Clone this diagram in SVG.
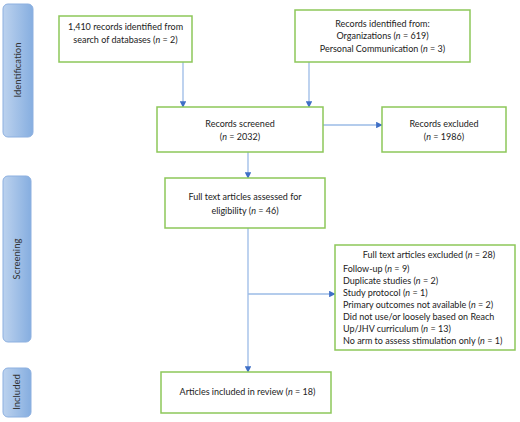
<svg xmlns="http://www.w3.org/2000/svg" width="520" height="422" viewBox="0 0 520 422">
<defs>
<linearGradient id="bar" x1="0" y1="0" x2="1" y2="0">
<stop offset="0" stop-color="#bcd2ee"/>
<stop offset="1" stop-color="#86aee0"/>
</linearGradient>
<marker id="ah" viewBox="0 0 10 10" refX="9" refY="5" markerWidth="5" markerHeight="5" orient="auto">
<path d="M0,0 L10,5 L0,10 z" fill="#3f6fc6"/>
</marker>
<style>
.box{fill:#fff;stroke:#8dc75a;stroke-width:1.5}
.bar{fill:url(#bar);stroke:#8db0e0;stroke-width:1}
.t{font-family:Lato,"Liberation Sans",sans-serif;font-size:9px;fill:#222}
.c{text-anchor:middle}
.bt{font-family:Lato,"Liberation Sans",sans-serif;font-size:9.5px;fill:#333;text-anchor:middle}
.ln{stroke:#9bbbe6;stroke-width:1.3;fill:none}
.arr{marker-end:url(#ah)}
</style>
</defs>
<rect width="520" height="422" fill="#fff"/>
<g id="bar-identification"><rect class="bar" x="3" y="4" width="30" height="133" rx="5"/><text class="bt" transform="translate(21,70) rotate(-90)">Identification</text></g>
<g id="bar-screening"><rect class="bar" x="3" y="176" width="28" height="166" rx="5"/><text class="bt" transform="translate(20,259) rotate(-90)">Screening</text></g>
<g id="bar-included"><rect class="bar" x="3" y="368" width="28" height="49" rx="5"/><text class="bt" transform="translate(20,392) rotate(-90)">Included</text></g>
<g id="connectors">
<line class="ln arr" x1="183" y1="62" x2="183" y2="107"/>
<line class="ln arr" x1="309" y1="62" x2="309" y2="107"/>
<line class="ln arr" x1="323" y1="125" x2="382" y2="125"/>
<line class="ln arr" x1="248" y1="152" x2="248" y2="178"/>
<line class="ln arr" x1="248" y1="228" x2="248" y2="372"/>
<line class="ln arr" x1="248" y1="294" x2="335" y2="294"/>
</g>
<g id="n1"><rect class="box" x="59" y="16" width="133" height="46"/>
<text class="t c" x="125.5" y="29.5">1,410 records identified from</text>
<text class="t c" x="125.5" y="42.5">search of databases (<tspan font-style="italic">n</tspan> = 2)</text></g>
<g id="n2"><rect class="box" x="295" y="10" width="175" height="52"/>
<text class="t c" x="382.5" y="26.5">Records identified from:</text>
<text class="t c" x="382.5" y="38.5">Organizations (<tspan font-style="italic">n</tspan> = 619)</text>
<text class="t c" x="382.5" y="52">Personal Communication (<tspan font-style="italic">n</tspan> = 3)</text></g>
<g id="n3"><rect class="box" x="157" y="107" width="166" height="45"/>
<text class="t c" x="240" y="126.5">Records screened</text>
<text class="t c" x="240" y="140">(<tspan font-style="italic">n</tspan> = 2032)</text></g>
<g id="n4"><rect class="box" x="382" y="107" width="124" height="45"/>
<text class="t c" x="444" y="126.5">Records excluded</text>
<text class="t c" x="444" y="140">(<tspan font-style="italic">n</tspan> = 1986)</text></g>
<g id="n5"><rect class="box" x="165" y="178" width="160" height="50"/>
<text class="t c" x="245" y="200">Full text articles assessed for</text>
<text class="t c" x="245" y="214">eligibility (<tspan font-style="italic">n</tspan> = 46)</text></g>
<g id="n6"><rect class="box" x="335" y="245" width="180" height="105"/>
<text class="t c" x="429" y="258">Full text articles excluded (<tspan font-style="italic">n</tspan> = 28)</text>
<text class="t" x="343" y="272">Follow-up (<tspan font-style="italic">n</tspan> = 9)</text>
<text class="t" x="343" y="283.5">Duplicate studies (<tspan font-style="italic">n</tspan> = 2)</text>
<text class="t" x="343" y="295.5">Study protocol (<tspan font-style="italic">n</tspan> = 1)</text>
<text class="t" x="343" y="307.5">Primary outcomes not available (<tspan font-style="italic">n</tspan> = 2)</text>
<text class="t" x="343" y="319.5">Did not use/or loosely based on Reach</text>
<text class="t" x="343" y="331.5">Up/JHV curriculum (<tspan font-style="italic">n</tspan> = 13)</text>
<text class="t" x="343" y="343.5">No arm to assess stimulation only (<tspan font-style="italic">n</tspan> = 1)</text></g>
<g id="n7"><rect class="box" x="161" y="372" width="170" height="41"/>
<text class="t c" x="247.5" y="395">Articles included in review (<tspan font-style="italic">n</tspan> = 18)</text></g>
</svg>
